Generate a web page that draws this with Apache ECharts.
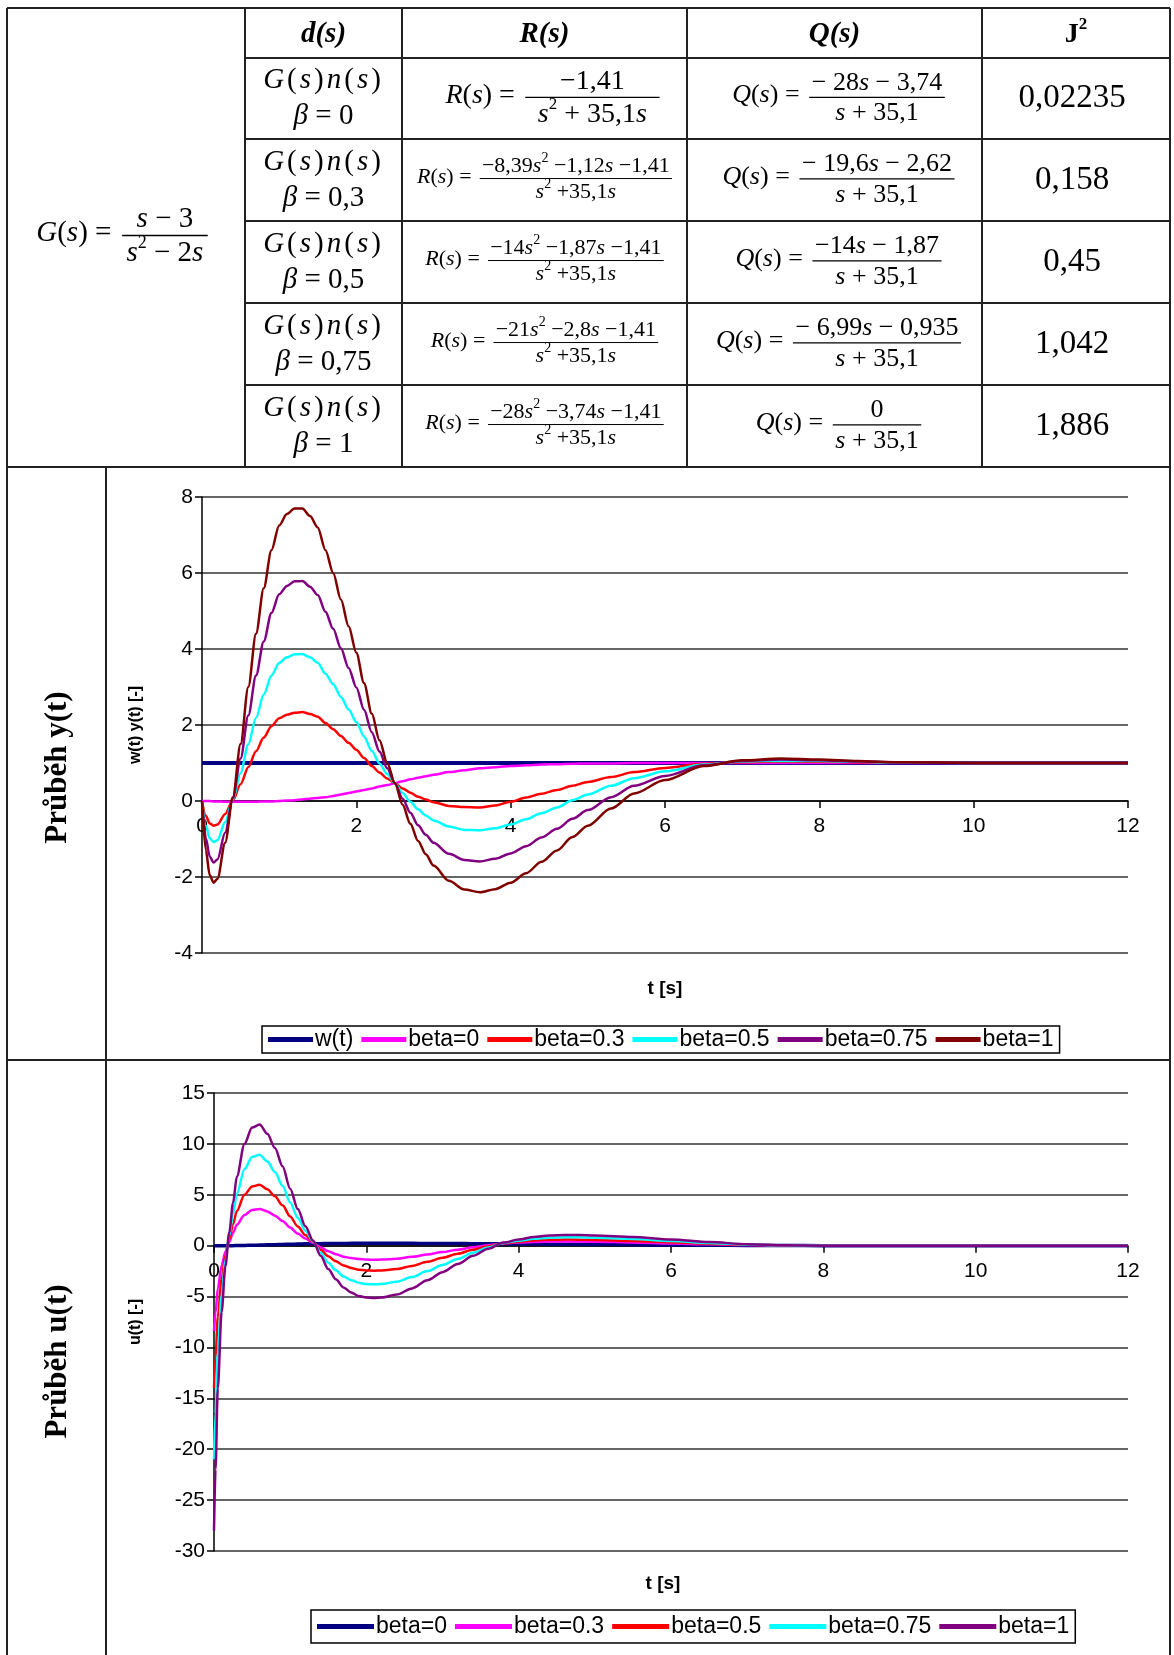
<!DOCTYPE html>
<html><head><meta charset="utf-8">
<script src="https://cdn.jsdelivr.net/npm/echarts@6/dist/echarts.min.js"></script>
<style>html,body{margin:0;padding:0;background:#fff}#main{width:1174px;height:1655px}</style>
</head><body><div id="main"></div>
<script>
// ---------------- DATA ----------------
// table
const headers = ['d(s)', 'R(s)', 'Q(s)'];
const plantNum = 's − 3';
const plantDen = 's^2 − 2s';
const betaLabels = ['β = 0', 'β = 0,3', 'β = 0,5', 'β = 0,75', 'β = 1'];
const rNum = ['−1,41', '−8,39s^2 −1,12s −1,41', '−14s^2 −1,87s −1,41', '−21s^2 −2,8s −1,41', '−28s^2 −3,74s −1,41'];
const rDen = ['s^2 + 35,1s', 's^2 +35,1s', 's^2 +35,1s', 's^2 +35,1s', 's^2 +35,1s'];
const qNum = ['− 28s − 3,74', '− 19,6s − 2,62', '−14s − 1,87', '− 6,99s − 0,935', '0'];
const qDen = ['s + 35,1', 's + 35,1', 's + 35,1', 's + 35,1', 's + 35,1'];
const j2 = ['0,02235', '0,158', '0,45', '1,042', '1,886'];

// chart 1: y(t)
const tY = [0,0.05,0.1,0.15,0.2,0.3,0.4,0.5,0.6,0.7,0.8,0.9,1.0,1.1,1.2,1.3,1.4,1.5,1.6,1.7,1.8,1.9,2.0,2.1,2.2,2.3,2.4,2.5,2.6,2.7,2.8,2.9,3.0,3.2,3.4,3.6,3.8,4.0,4.2,4.4,4.6,4.8,5.0,5.3,5.6,6.0,6.5,7.0,7.5,8.0,8.5,9.0,10,11,12];
const tW = [0, 12];
const wV = [1, 1];
const yB0 = [0,0,0,-0.01,-0.01,-0.02,-0.02,-0.02,-0.02,-0.02,-0.01,-0.01,0,0.01,0.02,0.04,0.06,0.08,0.1,0.13,0.17,0.21,0.25,0.29,0.33,0.38,0.42,0.47,0.52,0.57,0.61,0.65,0.69,0.76,0.81,0.86,0.89,0.92,0.94,0.96,0.97,0.98,0.99,0.99,1.0,1.0,1.0,1.0,1.0,1.0,1.0,1.0,1.0,1.0,1.0];
const yB03 = [0,-0.39,-0.59,-0.65,-0.62,-0.34,0.02,0.44,0.89,1.31,1.67,1.97,2.18,2.27,2.32,2.34,2.29,2.22,2.05,1.89,1.71,1.53,1.35,1.13,0.92,0.75,0.59,0.47,0.33,0.22,0.11,0.04,-0.03,-0.13,-0.16,-0.17,-0.12,-0.02,0.09,0.19,0.29,0.40,0.50,0.63,0.76,0.87,0.98,1.02,1.04,1.03,1.02,1.01,1.0,1.0,1.0];
const yB05 = [0,-0.65,-0.98,-1.08,-1.03,-0.56,0.04,0.74,1.49,2.19,2.80,3.30,3.63,3.78,3.86,3.87,3.78,3.64,3.35,3.07,2.74,2.41,2.08,1.70,1.32,0.99,0.71,0.47,0.21,-0.02,-0.22,-0.38,-0.51,-0.67,-0.76,-0.77,-0.72,-0.62,-0.48,-0.32,-0.17,0.02,0.17,0.40,0.60,0.78,0.96,1.04,1.06,1.05,1.03,1.01,1.0,1.0,1.0];
const yB075 = [0,-0.98,-1.46,-1.62,-1.54,-0.83,0.07,1.12,2.25,3.30,4.20,4.95,5.44,5.66,5.78,5.79,5.64,5.42,4.98,4.53,4.02,3.50,2.99,2.40,1.81,1.30,0.86,0.47,0.06,-0.31,-0.64,-0.89,-1.10,-1.39,-1.55,-1.59,-1.52,-1.38,-1.19,-0.96,-0.73,-0.47,-0.24,0.10,0.40,0.66,0.94,1.05,1.09,1.07,1.04,1.02,1.0,1.0,1.0];
const yB1 = [0,-1.3,-1.95,-2.15,-2.05,-1.1,0.1,1.5,3.0,4.4,5.6,6.6,7.25,7.55,7.7,7.7,7.5,7.2,6.6,6.0,5.3,4.6,3.9,3.1,2.3,1.6,1.0,0.47,-0.1,-0.6,-1.05,-1.4,-1.7,-2.1,-2.33,-2.4,-2.32,-2.15,-1.9,-1.6,-1.3,-0.95,-0.65,-0.2,0.2,0.55,0.92,1.07,1.12,1.09,1.05,1.02,1.0,1.0,1.0];

// chart 2: u(t)
const tU = [0,0.02,0.05,0.1,0.15,0.2,0.25,0.3,0.4,0.5,0.6,0.7,0.8,0.9,1.0,1.1,1.2,1.3,1.4,1.5,1.6,1.7,1.8,1.9,2.0,2.1,2.2,2.4,2.6,2.8,3.0,3.2,3.4,3.6,3.8,4.0,4.2,4.4,4.6,4.8,5.0,5.5,6.0,6.5,7.0,7.5,8.0,9.0,10,11,12];
const uB0 = [0,0,0,0,0,0,0,0.01,0.02,0.04,0.06,0.08,0.1,0.12,0.14,0.16,0.18,0.19,0.2,0.21,0.22,0.22,0.23,0.23,0.23,0.23,0.23,0.23,0.23,0.22,0.22,0.21,0.2,0.19,0.18,0.17,0.16,0.15,0.14,0.13,0.12,0.09,0.06,0.04,0.02,0.01,0,0,0,0,0];
const uB03 = [-8.4,-6.6,-4.2,-1.95,-0.6,0.39,1.26,2.05,3.01,3.51,3.61,3.36,2.95,2.42,1.78,1.19,0.70,0.28,-0.16,-0.54,-0.84,-1.08,-1.22,-1.32,-1.37,-1.38,-1.37,-1.28,-1.10,-0.87,-0.63,-0.39,-0.16,0.04,0.22,0.30,0.37,0.41,0.41,0.41,0.38,0.32,0.22,0.13,0.06,0.02,0,0,0,0,0];
const uB05 = [-14,-11,-7,-3.25,-1.0,0.65,2.1,3.41,5.01,5.82,5.98,5.54,4.85,3.96,2.87,1.88,1.04,0.35,-0.40,-1.05,-1.54,-1.94,-2.19,-2.36,-2.44,-2.46,-2.44,-2.29,-1.99,-1.59,-1.19,-0.80,-0.40,-0.06,0.24,0.39,0.51,0.58,0.60,0.59,0.56,0.47,0.33,0.20,0.09,0.02,0,0,0,0,0];
const uB075 = [-21,-16.5,-10.5,-4.88,-1.5,0.98,3.15,5.10,7.51,8.71,8.94,8.27,7.23,5.88,4.24,2.74,1.47,0.42,-0.70,-1.67,-2.42,-3.02,-3.39,-3.65,-3.77,-3.80,-3.77,-3.54,-3.09,-2.50,-1.90,-1.30,-0.70,-0.18,0.27,0.49,0.68,0.79,0.82,0.82,0.78,0.66,0.47,0.27,0.12,0.03,0,0,0,0,0];
const uB1 = [-28,-22,-14,-6.5,-2.0,1.3,4.2,6.8,10.0,11.6,11.9,11.0,9.6,7.8,5.6,3.6,1.9,0.5,-1.0,-2.3,-3.3,-4.1,-4.6,-4.95,-5.1,-5.15,-5.1,-4.8,-4.2,-3.4,-2.6,-1.8,-1.0,-0.3,0.3,0.6,0.85,1.0,1.05,1.05,1.0,0.85,0.6,0.35,0.15,0.03,0,0,0,0,0];

const xTicks = [0, 12, 2];       // min, max, interval
const y1Ticks = [-4, 8, 2];
const y2Ticks = [-30, 15, 5];
const names1 = ['w(t)', 'beta=0', 'beta=0.3', 'beta=0.5', 'beta=0.75', 'beta=1'];
const names2 = ['beta=0', 'beta=0.3', 'beta=0.5', 'beta=0.75', 'beta=1'];

// ---------------- STYLE ----------------
const SERIF = "'Liberation Serif', 'Times New Roman', serif";
const SANS = "'Liberation Sans', Arial, sans-serif";
const C = {navy:'#000080', mag:'#FF00FF', red:'#FF0000', cyan:'#00FFFF', purple:'#800080', maroon:'#800000'};
const LINE = '#222';

const cv = document.createElement('canvas').getContext('2d');
function tw(text, font){ cv.font = font; return cv.measureText(text).width; }
function fontOf(it, bold, size){ return (it?'italic ':'normal ') + (bold?'bold ':'normal ') + size + 'px ' + SERIF; }

// split a math string into runs (letters italic, '^x' superscript)
function parseRuns(str, size, bold, upright, track){
  const runs = [];
  let i = 0;
  while (i < str.length){
    let ch = str[i]; let sup = false;
    if (ch === '^'){ sup = true; i++; ch = str[i]; }
    const it = !upright && /[A-Za-zβ]/.test(ch);
    const sz = sup ? Math.round(size*0.62) : size;
    const font = fontOf(it, bold, sz);
    const last = runs[runs.length-1];
    if (!track && last && last.font === font && last.sup === sup) last.text += ch;
    else runs.push({text:ch, font, sup});
    i++;
  }
  runs.forEach(r => r.w = tw(r.text, r.font) + (track||0));
  return runs;
}
const rw = runs => runs.reduce((a,r)=>a+r.w, 0);
function txt(x, y, text, font, align, extra){
  return Object.assign({type:'text', x, y, silent:true, style:{text, font, fill:'#000', align:align||'left', verticalAlign:'middle', textAlign:align||'left', textVerticalAlign:'middle'}}, extra||{});
}
function placeRuns(els, runs, x, y, size){
  let cx = x;
  runs.forEach(r => { els.push(txt(cx, r.sup ? y - size*0.36 : y, r.text, r.font)); cx += r.w; });
}
function mathText(els, str, cx, cy, size, bold, upright, track){
  const runs = parseRuns(str, size, bold, upright, track);
  placeRuns(els, runs, cx - rw(runs)/2, cy, size);
}
function fraction(els, prefix, num, den, cx, cy, size, pad){
  const rp = parseRuns(prefix, size), rn = parseRuns(num, size), rd = parseRuns(den, size);
  const wp = rw(rp), wn = rw(rn), wd = rw(rd);
  const wb = Math.max(wn, wd) + size*(pad||0.2);
  const gap = size*0.12;
  const x0 = cx - (wp + gap + wb)/2;
  placeRuns(els, rp, x0, cy, size);
  const bx = x0 + wp + gap, by = cy + size*0.07;
  els.push({type:'line', silent:true, shape:{x1:bx, y1:by, x2:bx+wb, y2:by}, style:{stroke:'#000', lineWidth:Math.max(1, size/22)}});
  placeRuns(els, rn, bx + (wb-wn)/2, by - size*0.55, size);
  placeRuns(els, rd, bx + (wb-wd)/2, by + size*0.62, size);
}
function seg(x1, y1, x2, y2, w){
  return {type:'line', silent:true, shape:{x1, y1, x2, y2}, style:{stroke:LINE, lineWidth:w||2}};
}

// ---------------- TABLE / FRAME (graphic) ----------------
const X = [7, 245, 402, 687, 982, 1170];
const Y = [8, 58, 139, 221, 303, 385, 467];
const SEC = 1060, BOT = 1655, LBL = 106;
const els = [];
els.push(seg(X[0], Y[0], X[5], Y[0]));
els.push(seg(X[0], Y[0], X[0], BOT));
els.push(seg(X[5], Y[0], X[5], BOT));
for (let k = 1; k <= 4; k++) els.push(seg(X[k], Y[0], X[k], Y[6]));
for (let r = 1; r <= 5; r++) els.push(seg(X[1], Y[r], X[5], Y[r]));
els.push(seg(X[0], Y[6], X[5], Y[6]));
els.push(seg(X[0], SEC, X[5], SEC));
els.push(seg(LBL, Y[6], LBL, BOT));

// headers
const hy = (Y[0]+Y[1])/2 + 2;
headers.forEach((h, k) => els.push(txt((X[k+1]+X[k+2])/2, hy, h, fontOf(true, true, 29), 'center')));
mathText(els, 'J^2', (X[4]+X[5])/2, hy, 28, true, true);

// plant
fraction(els, 'G(s) = ', plantNum, plantDen, (X[0]+X[1])/2 - 4, (Y[0]+Y[6])/2 - 4, 29, 0.3);

// rows
for (let r = 0; r < 5; r++){
  const cy = (Y[r+1]+Y[r+2])/2;
  const dx = (X[1]+X[2])/2;
  mathText(els, 'G(s)n(s)', dx, cy - 18, 29, false, false, 3);
  mathText(els, betaLabels[r], dx, cy + 18, 29);
  if (r === 0) fraction(els, 'R(s) = ', rNum[r], rDen[r], (X[2]+X[3])/2 + 8, cy - 3, 28, 0.9);
  else fraction(els, 'R(s) = ', rNum[r], rDen[r], (X[2]+X[3])/2, cy - 3, 22, 0.2);
  fraction(els, 'Q(s) = ', qNum[r], qDen[r], (X[3]+X[4])/2 + 4, cy - 3, 26);
  els.push(txt((X[4]+X[5])/2 - 4, cy, j2[r], fontOf(false, false, 33), 'center'));
}

// row labels
els.push(txt(58, (Y[6]+SEC)/2 + 4, 'Průběh y(t)', fontOf(false, true, 31), 'center', {rotation: Math.PI/2}));
els.push(txt(58, (SEC+BOT)/2 + 4, 'Průběh u(t)', fontOf(false, true, 31), 'center', {rotation: Math.PI/2}));
// x-axis names
els.push(txt(665, 989, 't [s]', 'normal bold 19px ' + SANS, 'center'));
els.push(txt(663, 1584, 't [s]', 'normal bold 19px ' + SANS, 'center'));

// ---------------- CHART ----------------
const G1 = {left:202, top:497, width:926, height:456};
const G2 = {left:214, top:1093, width:914, height:458};
// x axis sits on y = 0 (offset from grid bottom, derived from the y range)
function zeroOffset(t, g){ return -((0 - t[0]) / (t[1] - t[0])) * g.height; }
function mkX(gi, off){
  return {type:'value', gridIndex:gi, min:xTicks[0], max:xTicks[1], interval:xTicks[2], position:'bottom', offset:off,
    axisLine:{show:true, onZero:false, lineStyle:{color:'#000', width:1.5}},
    axisTick:{show:true, inside:false, length:7, lineStyle:{color:'#000', width:1.5}},
    axisLabel:{fontSize:21, color:'#000', margin:15, fontFamily:SANS},
    splitLine:{show:false}};
}
function mkY(gi, t, name, gap){
  return {type:'value', gridIndex:gi, min:t[0], max:t[1], interval:t[2],
    axisLine:{show:true, onZero:false, lineStyle:{color:'#000', width:1.5}},
    axisTick:{show:true, inside:false, length:7, lineStyle:{color:'#000', width:1.5}},
    axisLabel:{fontSize:21, color:'#000', margin:9, fontFamily:SANS},
    splitLine:{show:true, lineStyle:{color:'#333', width:1.5}},
    name, nameLocation:'middle', nameGap:gap, nameRotate:90,
    nameTextStyle:{fontWeight:'bold', fontSize:16, color:'#000', fontFamily:SANS}};
}
function line(name, gi, ts, vs, color, width){
  return {name, type:'line', xAxisIndex:gi, yAxisIndex:gi, data: ts.map((t,i)=>[t, vs[i]]),
    showSymbol:false, symbol:'none', smooth:0.3, smoothMonotone:'x', color,
    lineStyle:{color, width}, itemStyle:{color}, emphasis:{disabled:true}, silent:true};
}
function legendOf(left, top, names, iw, pad, fmt){
  return {left, top, orient:'horizontal', data:names, icon:'rect', itemWidth:iw, itemHeight:5, itemGap:8,
    borderColor:'#000', borderWidth:1.5, padding:pad, selectedMode:false,
    textStyle:{fontSize:23, color:'#000', fontFamily:SANS, padding:[0,0,0,-3]},
    formatter: fmt || (n => n)};
}

const chart = echarts.init(document.getElementById('main'), null, {renderer:'canvas'});
chart.setOption({
  animation:false,
  backgroundColor:'#fff',
  textStyle:{fontFamily:SANS},
  grid:[G1, G2],
  xAxis:[mkX(0, zeroOffset(y1Ticks, G1)), mkX(1, zeroOffset(y2Ticks, G2))],
  yAxis:[mkY(0, y1Ticks, 'w(t) y(t) [-]', 58), mkY(1, y2Ticks, 'u(t) [-]', 70)],
  legend:[legendOf(262, 1026, names1, 45, [2,6,2,6]), legendOf(311, 1610, names2.map(n=>'u:'+n), 57, [5,6,5,6], n => n.replace('u:',''))],
  series:[
    line('w(t)', 0, tW, wV, C.navy, 4),
    line('beta=0', 0, tY, yB0, C.mag, 2.5),
    line('beta=0.3', 0, tY, yB03, C.red, 2.5),
    line('beta=0.5', 0, tY, yB05, C.cyan, 2.5),
    line('beta=0.75', 0, tY, yB075, C.purple, 2.5),
    line('beta=1', 0, tY, yB1, C.maroon, 2.5),
    line('u:beta=0', 1, tU, uB0, C.navy, 3.5),
    line('u:beta=0.3', 1, tU, uB03, C.mag, 2.5),
    line('u:beta=0.5', 1, tU, uB05, C.red, 2.5),
    line('u:beta=0.75', 1, tU, uB075, C.cyan, 2.5),
    line('u:beta=1', 1, tU, uB1, C.purple, 2.5)
  ],
  graphic:{elements:els}
});
</script></body></html>
